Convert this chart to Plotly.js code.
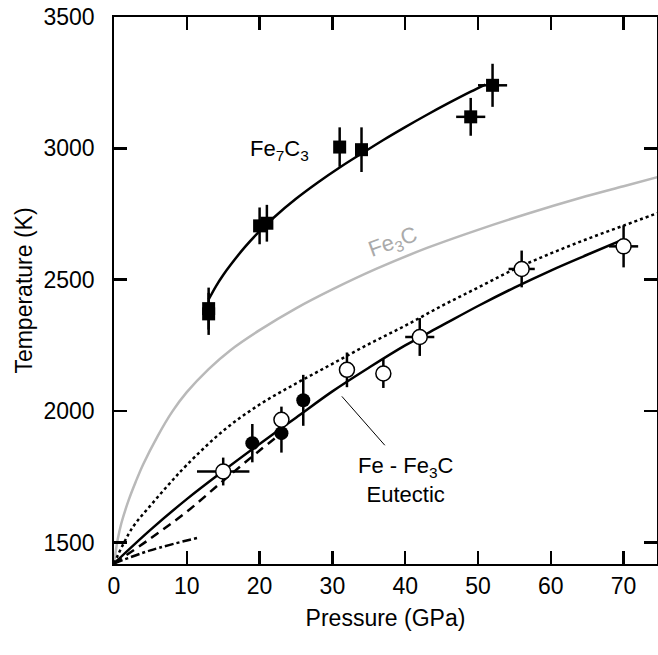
<!DOCTYPE html>
<html>
<head>
<meta charset="utf-8">
<script src="https://cdn.plot.ly/plotly-3.0.1.min.js"></script>
<style>html,body{margin:0;padding:0;background:#fff;overflow:hidden;}#chart{width:658px;height:655px;overflow:hidden;}</style>
</head>
<body>
<div id="chart"></div>
<script>
// ---- Data ----
// Fe7C3 melting data (filled squares)
const fe7c3P  = [13, 13, 20, 21, 31, 34, 49, 52];
const fe7c3T  = [2390, 2370, 2705, 2715, 3005, 2995, 3120, 3240];
const fe7c3dT = [80, 80, 70, 70, 75, 85, 72, 82];
const fe7c3dP = [0, 0, 0, 0, 0, 0, 2, 2];

// Fe7C3 fitted curve
const fe7c3CurveP = [13, 14, 15, 16, 18, 20, 22, 25, 28, 31, 34, 37, 40, 43, 46, 49, 51];
const fe7c3CurveT = [2425, 2475, 2518, 2556, 2625, 2685, 2738, 2808, 2870, 2927, 2980, 3032, 3081, 3128, 3173, 3216, 3243];

// Fe3C melting curve (gray)
const fe3cP = [0, 0.5, 1, 2, 3, 4, 6, 8, 10, 13, 16, 20, 25, 30, 36, 43, 50, 57, 64, 70, 75];
const fe3cT = [1420, 1510, 1572, 1660, 1732, 1797, 1905, 1998, 2072, 2160, 2232, 2308, 2391, 2463, 2541, 2621, 2690, 2753, 2811, 2856, 2893];

// Dotted curve
const dottedP = [0, 2.5, 5, 7.5, 10, 15, 20, 25, 30, 35, 40, 45, 50, 55, 60, 65, 70, 75];
const dottedT = [1420, 1555, 1640, 1720, 1795, 1925, 2025, 2105, 2180, 2255, 2325, 2400, 2470, 2540, 2600, 2655, 2706, 2757];

// Fe - Fe3C eutectic (solid)
const eutP = [0, 5, 10, 15, 20, 25, 30, 35, 40, 45, 50, 55, 60, 65, 69.5];
const eutT = [1420, 1548, 1665, 1772, 1875, 1975, 2075, 2165, 2250, 2325, 2400, 2470, 2535, 2595, 2648];

// Dashed curve
const dashedP = [0, 5, 10, 15, 20, 22.5];
const dashedT = [1420, 1515, 1617, 1735, 1850, 1905];

// Dash-dot curve
const dashdotP = [0, 5, 11.4];
const dashdotT = [1420, 1470, 1517];

// Eutectic data, open circles
const openP  = [15, 23, 32, 37, 42, 56, 70];
const openT  = [1770, 1967, 2157, 2143, 2282, 2541, 2627];
const openDT = [53, 50, 66, 55, 72, 70, 80];
const openDP = [3.6, 0, 0, 0, 2, 1.8, 2];

// Eutectic data, filled circles
const fillP  = [19, 23, 26];
const fillT  = [1878, 1916, 2041];
const fillDT = [73, 74, 97];

// Axis ranges
const yRange = [1418, 3500];
const xRange = [0, 74.59];

const FONT = "Liberation Sans, Arial, Helvetica, sans-serif";

const traces = [
  {x: fe3cP, y: fe3cT, mode: 'lines', line: {color: 'rgb(185,185,185)', width: 2.5, shape: 'spline', smoothing: 1}, hoverinfo: 'skip'},
  {x: dottedP, y: dottedT, mode: 'lines', line: {color: 'black', width: 2.5, dash: 'dot', shape: 'spline', smoothing: 1}, hoverinfo: 'skip'},
  {x: dashedP, y: dashedT, mode: 'lines', line: {color: 'black', width: 2.5, dash: '9px,6px', shape: 'spline', smoothing: 1}, hoverinfo: 'skip'},
  {x: dashdotP, y: dashdotT, mode: 'lines', line: {color: 'black', width: 2.5, dash: 'dashdot', shape: 'spline'}, hoverinfo: 'skip'},
  {x: eutP, y: eutT, mode: 'lines', line: {color: 'black', width: 2.5, shape: 'spline', smoothing: 1}, hoverinfo: 'skip'},
  {x: fe7c3CurveP, y: fe7c3CurveT, mode: 'lines', line: {color: 'black', width: 2.5, shape: 'spline', smoothing: 1}, hoverinfo: 'skip'},
  {x: fe7c3P, y: fe7c3T, mode: 'markers',
   marker: {symbol: 'square', size: 13, color: 'black'},
   error_y: {type: 'data', array: fe7c3dT, thickness: 2.5, width: 0, color: 'black'},
   error_x: {type: 'data', array: fe7c3dP, thickness: 2.5, width: 0, color: 'black'}},
  {x: fillP, y: fillT, mode: 'markers',
   marker: {symbol: 'circle', size: 14, color: 'black'},
   error_y: {type: 'data', array: fillDT, thickness: 2.5, width: 0, color: 'black'}},
  {x: openP, y: openT, mode: 'markers',
   marker: {symbol: 'circle', size: 15, color: 'white', line: {color: 'black', width: 1.5}},
   error_y: {type: 'data', array: openDT, thickness: 2.5, width: 0, color: 'black'},
   error_x: {type: 'data', array: openDP, thickness: 2.5, width: 0, color: 'black'}}
];

const layout = {
  width: 658, height: 655,
  margin: {l: 114, r: 1, t: 17, b: 91},
  paper_bgcolor: 'white', plot_bgcolor: 'white',
  showlegend: false,
  font: {family: FONT, size: 23, color: 'black'},
  xaxis: {
    range: xRange, showgrid: false, zeroline: false,
    showline: true, linecolor: 'black', linewidth: 2, mirror: 'allticks',
    ticks: 'inside', ticklen: 13, tickwidth: 2.5, tickcolor: '#000000',
    tickmode: 'linear', tick0: 0, dtick: 10,
    tickfont: {family: FONT, size: 23},
    title: {text: 'Pressure (GPa)', font: {family: FONT, size: 23}, standoff: 12}
  },
  yaxis: {
    range: yRange, showgrid: false, zeroline: false,
    showline: true, linecolor: 'black', linewidth: 2, mirror: 'ticks',
    ticks: 'inside', ticklen: 13, tickwidth: 2.5, tickcolor: '#000000',
    tickmode: 'linear', tick0: 1500, dtick: 500, ticksuffix: '  ',
    tickfont: {family: FONT, size: 23},
    title: {text: 'Temperature (K)', font: {family: FONT, size: 23}, standoff: 4}
  },
  annotations: [
    {x: 22.8, y: 2995, xref: 'x', yref: 'y', text: 'Fe<sub>7</sub>C<sub>3</sub>', showarrow: false,
     font: {family: FONT, size: 22, color: 'black'}},
    {x: 38.3, y: 2641, xref: 'x', yref: 'y', text: 'Fe<sub>3</sub>C', showarrow: false, textangle: -20,
     font: {family: FONT, size: 22, color: 'rgb(170,170,170)'}},
    {x: 40, y: 1739, xref: 'x', yref: 'y', text: 'Fe - Fe<sub>3</sub>C<br>Eutectic', showarrow: false,
     font: {family: FONT, size: 22, color: 'black'}}
  ],
  shapes: [
    {type: 'line', xref: 'x', yref: 'y', x0: 31.3, y0: 2056, x1: 37.2, y1: 1870, line: {color: 'black', width: 1}}
  ]
};

Plotly.newPlot('chart', traces, layout, {staticPlot: true, displayModeBar: false});
</script>
</body>
</html>
